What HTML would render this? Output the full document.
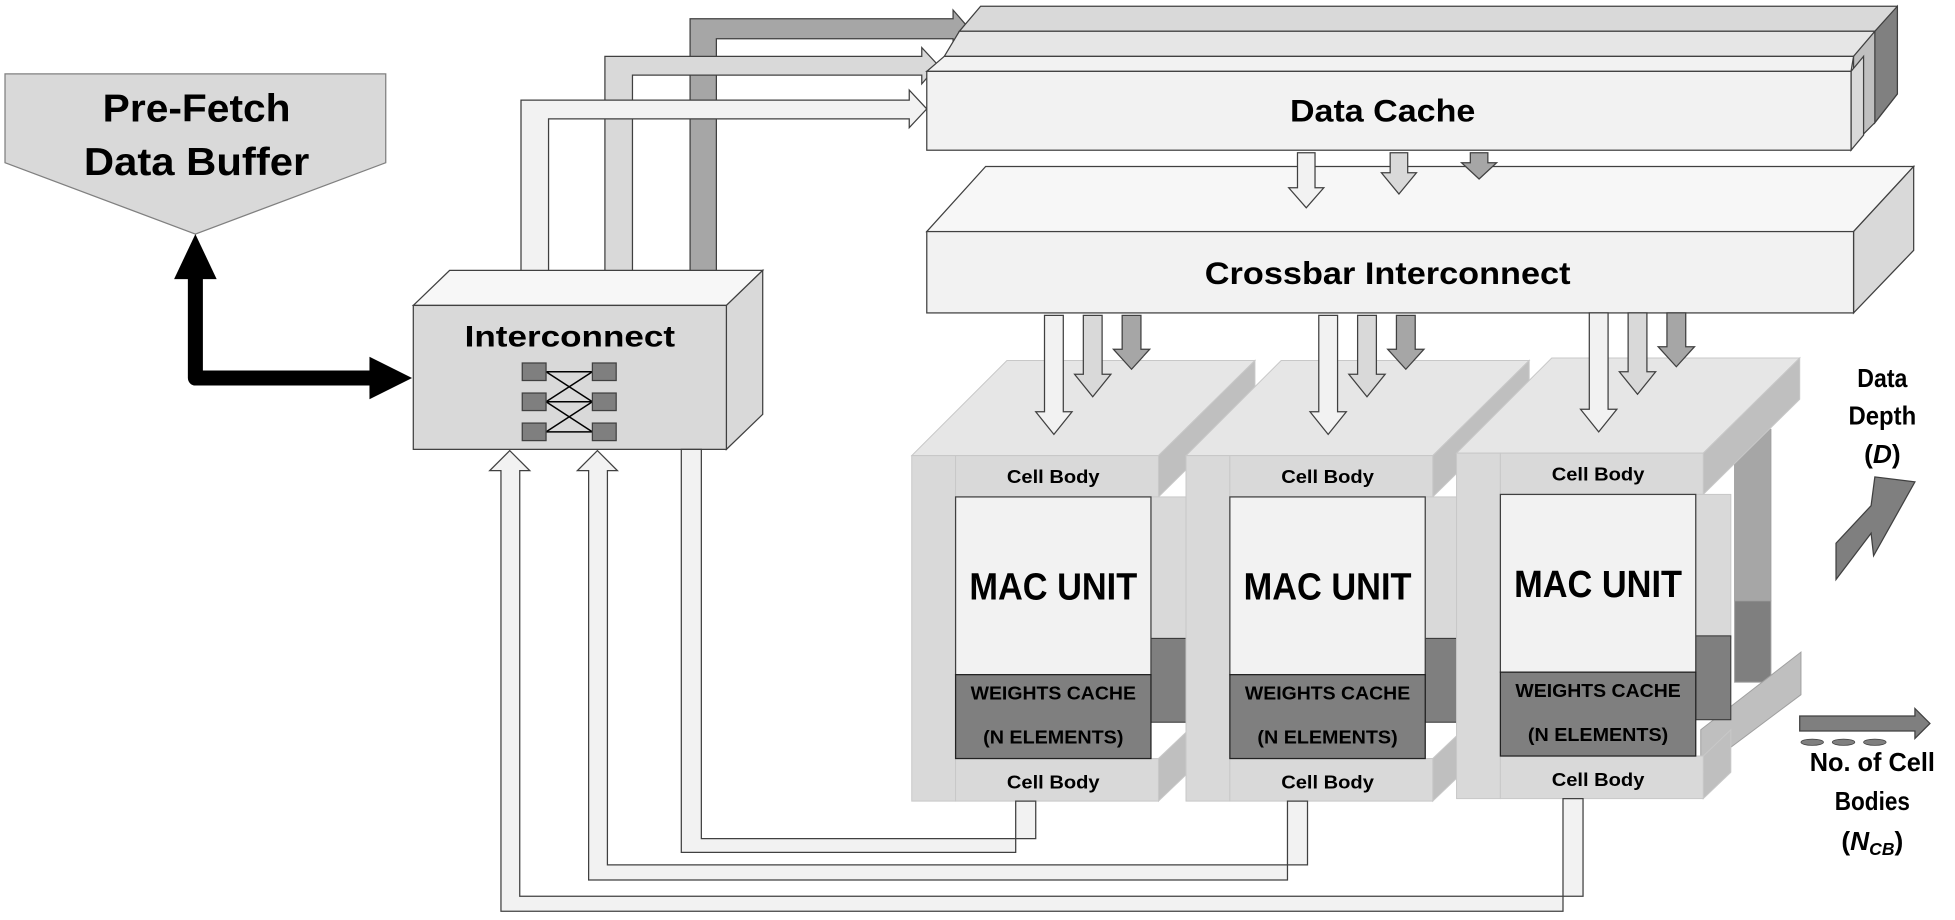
<!DOCTYPE html>
<html><head><meta charset="utf-8"><style>
html,body{margin:0;padding:0;background:#fff;width:1955px;height:920px;overflow:hidden}
svg{display:block}
text{font-family:"Liberation Sans Narrow","Liberation Sans",sans-serif;font-weight:bold;fill:#000}
</style></head><body>
<svg width="1955" height="920" viewBox="0 0 1561 735" preserveAspectRatio="none" xmlns="http://www.w3.org/2000/svg">
<polygon points="4,59 308,59 308,130 156,187 4,130" fill="#d9d9d9" stroke="#808080" stroke-width="1"/>
<text x="157" y="97" font-size="31" text-anchor="middle" textLength="150" lengthAdjust="spacingAndGlyphs">Pre-Fetch</text>
<text x="157" y="140" font-size="31" text-anchor="middle" textLength="180" lengthAdjust="spacingAndGlyphs">Data Buffer</text>
<polyline points="156,220 156,302 298,302" fill="none" stroke="#000" stroke-width="12" stroke-linejoin="round"/>
<polygon points="139,223 156,187 173,223" fill="#000"/>
<polygon points="295,285 329,302 295,319" fill="#000"/>

<g stroke="#404040" stroke-width="1">
<path d="M551,224 V15 H761 V8 L774,23 L761,38 V31 H572 V224 Z" fill="#a6a6a6"/>
<path d="M483,224 V45 H736 V38 L749,52 L736,67 V60 H505 V224 Z" fill="#d9d9d9"/>
<path d="M416,224 V80 H726 V72 L740,87 L726,102 V95 H438 V224 Z" fill="#f2f2f2"/>

<polygon points="330,244 359,216 609,216 580,244" fill="#f7f7f7"/>
<polygon points="580,244 609,216 609,331 580,359" fill="#d9d9d9"/>
<rect x="330" y="244" width="250" height="115" fill="#d9d9d9"/>
<g stroke="#000" stroke-width="1.2">
<line x1="436" y1="297" x2="473" y2="297"/><line x1="436" y1="321" x2="473" y2="321"/><line x1="436" y1="345" x2="473" y2="345"/>
<line x1="436" y1="297" x2="473" y2="321"/><line x1="436" y1="321" x2="473" y2="297"/>
<line x1="436" y1="321" x2="473" y2="345"/><line x1="436" y1="345" x2="473" y2="321"/>
</g>
<g fill="#7f7f7f">
<rect x="417" y="290" width="19" height="14"/><rect x="417" y="314" width="19" height="14"/><rect x="417" y="338" width="19" height="14"/>
<rect x="473" y="290" width="19" height="14"/><rect x="473" y="314" width="19" height="14"/><rect x="473" y="338" width="19" height="14"/>
</g>

<polygon points="783,5 1515,5 1515,75 1497,98 1497,25 766,25" fill="#d9d9d9"/>
<polygon points="1497,25 1515,5 1515,75 1497,98" fill="#808080"/>
<polygon points="766,25 1497,25 1488,37 1488,105 1480,110 1480,45 754,45" fill="#e6e6e6"/>
<polygon points="1480,45 1497,25 1497,98 1480,115" fill="#bfbfbf"/>
<polygon points="754,45 1480,45 1478,57 740,57" fill="#f2f2f2"/>
<polygon points="1478,57 1488,45 1488,108 1478,120" fill="#d9d9d9"/>
<rect x="740" y="57" width="738" height="63" fill="#f2f2f2"/>

<polygon points="740,185 787,133 1528,133 1480,185" fill="#f7f7f7"/>
<polygon points="1480,185 1528,133 1528,200 1480,250" fill="#d9d9d9"/>
<rect x="740" y="185" width="740" height="65" fill="#f2f2f2"/>

<path d="M1036,122 H1050 V150 H1057 L1043,166 L1029,150 H1036 Z" fill="#f2f2f2"/>
<path d="M1110,122 H1124 V138 H1131 L1117,155 L1103,138 H1110 Z" fill="#d9d9d9"/>
<path d="M1174,122 H1188 V130 H1195 L1181,143 L1167,130 H1174 Z" fill="#a6a6a6"/>
</g>
<text x="1104" y="97" font-size="25" text-anchor="middle" textLength="148" lengthAdjust="spacingAndGlyphs">Data Cache</text>
<text x="1108" y="227" font-size="25" text-anchor="middle" textLength="292" lengthAdjust="spacingAndGlyphs">Crossbar Interconnect</text>
<text x="455" y="277" font-size="24" text-anchor="middle" textLength="168" lengthAdjust="spacingAndGlyphs">Interconnect</text>

<g stroke="#a0a0a0" stroke-width="0.8">
<rect x="1385" y="343" width="29" height="137" fill="#a6a6a6"/>
<rect x="1385" y="480" width="29" height="65" fill="#7f7f7f"/>
<polygon points="1358,583 1438,521 1438,555 1358,615" fill="#bfbfbf"/>
</g>

<defs>
<g id="u">
<g stroke="#c8c8c8" stroke-width="0.8">
<polygon points="0,75 76,-1 274,-1 197,75" fill="#e6e6e6"/>
<polygon points="197,75 274,-1 274,32 197,108" fill="#bfbfbf"/>
<rect x="0" y="75" width="35" height="276" fill="#d9d9d9"/>
<rect x="35" y="75" width="162" height="33" fill="#d9d9d9"/>
<rect x="191" y="108" width="28" height="115" fill="#d9d9d9"/>
<polygon points="197,317 219,296 219,330 197,351" fill="#bfbfbf"/>
<rect x="35" y="317" width="162" height="34" fill="#d9d9d9"/>
</g>
<rect x="191" y="221" width="28" height="67" fill="#7f7f7f" stroke="#333" stroke-width="0.8"/>
<rect x="35" y="108" width="156" height="142" fill="#f2f2f2" stroke="#404040" stroke-width="1"/>
<rect x="35" y="250" width="156" height="67" fill="#7f7f7f" stroke="#222" stroke-width="1"/>
<text x="113" y="97" font-size="15" text-anchor="middle" textLength="74" lengthAdjust="spacingAndGlyphs">Cell Body</text>
<text x="113" y="190" font-size="30" text-anchor="middle" textLength="134" lengthAdjust="spacingAndGlyphs">MAC UNIT</text>
<text x="113" y="270" font-size="15" text-anchor="middle" fill="#111" textLength="132" lengthAdjust="spacingAndGlyphs">WEIGHTS CACHE</text>
<text x="113" y="305" font-size="15" text-anchor="middle" fill="#111" textLength="112" lengthAdjust="spacingAndGlyphs">(N ELEMENTS)</text>
<text x="113" y="341" font-size="15" text-anchor="middle" textLength="74" lengthAdjust="spacingAndGlyphs">Cell Body</text>
<g stroke="#404040" stroke-width="1">
<path d="M106,-37 H121 V40 H128 L113.5,58 L99,40 H106 Z" fill="#f2f2f2"/>
<path d="M137,-37 H152 V10 H159 L144.5,28 L130,10 H137 Z" fill="#d9d9d9"/>
<path d="M168,-37 H183 V-10 H190 L175.5,6 L161,-10 H168 Z" fill="#a6a6a6"/>
</g>
</g>
</defs>
<use href="#u" transform="translate(728,289)"/>
<use href="#u" transform="translate(947,289)"/>
<use href="#u" transform="translate(1163,287)"/>

<g stroke="#404040" stroke-width="1" fill="#f2f2f2">
<path d="M811,640 V681 H544 V359 H560 V670 H827 V640 Z"/>
<path d="M1028,640 V703 H470 V376 H461 L477,360 L493,376 H485 V691 H1044 V640 Z"/>
<path d="M1248,638 V728 H400 V376 H391 L407,360 L423,376 H415 V716 H1264 V638 Z"/>
</g>

<polygon points="1466,463 1466,434 1494,404 1497,381 1529,385 1496,444 1494,426" fill="#7f7f7f" stroke="#404040"/>
<text x="1503" y="309" font-size="21" text-anchor="middle" textLength="40" lengthAdjust="spacingAndGlyphs">Data</text>
<text x="1503" y="339" font-size="21" text-anchor="middle" textLength="54" lengthAdjust="spacingAndGlyphs">Depth</text>
<text x="1503" y="370" font-size="21" text-anchor="middle">(<tspan font-style="italic">D</tspan>)</text>
<path d="M1437,572 H1529 V566 L1541,578 L1529,590 V584 H1437 Z" fill="#7f7f7f" stroke="#404040"/>
<g fill="#7f7f7f" stroke="#404040" stroke-width="0.6">
<ellipse cx="1447" cy="593" rx="9" ry="2.5"/><ellipse cx="1472" cy="593" rx="9" ry="2.5"/><ellipse cx="1497" cy="593" rx="9" ry="2.5"/>
</g>
<text x="1495" y="616" font-size="21" text-anchor="middle" textLength="100" lengthAdjust="spacingAndGlyphs">No. of Cell</text>
<text x="1495" y="647" font-size="21" text-anchor="middle" textLength="60" lengthAdjust="spacingAndGlyphs">Bodies</text>
<text x="1495" y="679" font-size="21" text-anchor="middle">(<tspan font-style="italic">N</tspan><tspan font-style="italic" font-size="14" dy="4">CB</tspan><tspan dy="-4">)</tspan></text>
</svg>
</body></html>
